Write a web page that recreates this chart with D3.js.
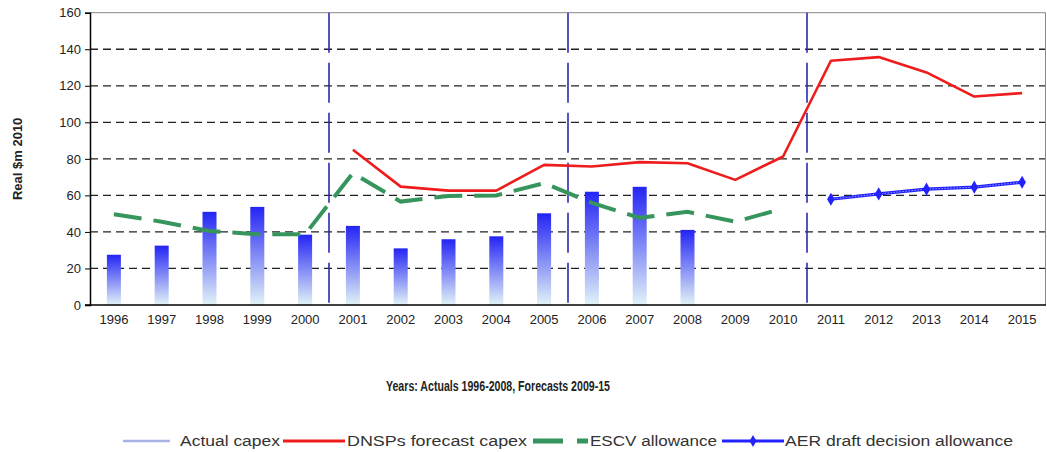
<!DOCTYPE html>
<html>
<head>
<meta charset="utf-8">
<script src="https://cdn.jsdelivr.net/npm/d3@7"></script>
<style>
  body { margin: 0; background: #fff; }
  svg { display: block; font-family: "Liberation Sans", Arial, sans-serif; }
  .tick text { fill: #222; }
</style>
</head>
<body>
<div id="chart"></div>
<script>
// data
const years = ['1996', '1997', '1998', '1999', '2000', '2001', '2002', '2003', '2004', '2005',
  '2006', '2007', '2008', '2009', '2010', '2011', '2012', '2013', '2014', '2015']
const actualYears = ['1996', '1997', '1998', '1999', '2000', '2001', '2002', '2003', '2004', '2005', '2006', '2007', '2008']
const actualCapex = [27.5, 32.5, 51, 53.7, 38.5, 43.3, 31, 36, 37.6, 50.2, 62, 64.7, 41.1]
const dnspYears = ['2001', '2002', '2003', '2004', '2005', '2006', '2007', '2008', '2009', '2010', '2011', '2012', '2013', '2014', '2015']
const dnspForecast = [85, 64.8, 62.6, 62.6, 76.7, 75.8, 78.2, 77.6, 68.5, 81.3, 133.7, 135.7, 127.3, 114.1, 116]
const escvYears = ['1996', '1997', '1998', '1999', '2000', '2001', '2002', '2003', '2004', '2005', '2006', '2007', '2008', '2009', '2010']
const escvAllowance = [49.7, 45.6, 40.5, 38.7, 38.7, 72.2, 56.6, 59.7, 60, 66.7, 55.9, 47.7, 51, 45.6, 52.8]
const aerYears = ['2011', '2012', '2013', '2014', '2015']
const aerAllowance = [57.9, 60.8, 63.4, 64.5, 67.2]
const periodBreaks = ['2001', '2006', '2011']
const yTicks = [0, 20, 40, 60, 80, 100, 120, 140, 160]

const width = 1047, height = 452
const margin = { top: 12.7, right: 1, bottom: 147, left: 90 }

const svg = d3.select('#chart').append('svg')
  .attr('width', width).attr('height', height)

const x = d3.scaleBand().domain(years)
  .range([margin.left, width - margin.right]).padding(0)
const y = d3.scaleLinear().domain([0, 160])
  .range([height - margin.bottom, margin.top])
const cx = d => x(d) + x.bandwidth() / 2

const defs = svg.append('defs')
const grad = defs.append('linearGradient').attr('id', 'barGrad')
  .attr('x1', 0).attr('y1', 0).attr('x2', 0).attr('y2', 1)
grad.append('stop').attr('offset', '0%').attr('stop-color', '#2424f4')
grad.append('stop').attr('offset', '100%').attr('stop-color', '#e2f3f7')

// grid
svg.append('g').attr('class', 'grid')
  .selectAll('line').data(yTicks.filter(d => d > 0 && d < 160)).join('line')
  .attr('x1', margin.left).attr('x2', width - margin.right)
  .attr('y1', d => y(d)).attr('y2', d => y(d))
  .attr('stroke', '#222').attr('stroke-width', 1.3).attr('stroke-dasharray', '8,5')

// frame top/right
svg.append('path')
  .attr('d', `M${margin.left},${y(160)}H${width - margin.right - 0.5}V${y(0)}`)
  .attr('fill', 'none').attr('stroke', '#888').attr('stroke-width', 1)

// bars
svg.append('g').selectAll('rect').data(actualYears).join('rect')
  .attr('x', d => cx(d) - 7)
  .attr('width', 14)
  .attr('y', (d, i) => y(actualCapex[i]))
  .attr('height', (d, i) => y(0) - y(actualCapex[i]))
  .attr('fill', 'url(#barGrad)')

// period separators
svg.append('g').selectAll('line').data(periodBreaks).join('line')
  .attr('x1', d => x(d)).attr('x2', d => x(d))
  .attr('y1', y(160)).attr('y2', y(0) + 6)
  .attr('stroke', '#2a2ab4').attr('stroke-width', 1.6).attr('stroke-dasharray', '40,10')

// axes
svg.append('g').attr('transform', `translate(${margin.left},0)`)
  .call(d3.axisLeft(y).tickValues(yTicks).tickSize(5).tickPadding(4))
  .call(g => g.select('.domain').attr('stroke', '#000').attr('stroke-width', 1.5))
  .call(g => g.selectAll('.tick line').attr('stroke', '#000'))
  .call(g => g.selectAll('.tick text').attr('font-size', 13).attr('font-family', null))

svg.append('g').attr('transform', `translate(0,${y(0)})`)
  .call(d3.axisBottom(x).tickSize(0).tickPadding(10))
  .call(g => g.select('.domain').attr('d', `M${margin.left - 5},0H${width - margin.right}`)
    .attr('stroke', '#000').attr('stroke-width', 1.5))
  .call(g => g.selectAll('.tick text').attr('font-size', 13).attr('font-family', null))

// lines
const line = (ys, vs) => d3.line().x((d, i) => cx(ys[i])).y(d => y(d))(vs)

svg.append('path').attr('d', line(escvYears, escvAllowance))
  .attr('fill', 'none').attr('stroke', '#36955c').attr('stroke-width', 4)
  .attr('stroke-dasharray', '28,12')

svg.append('path').attr('d', line(dnspYears, dnspForecast))
  .attr('fill', 'none').attr('stroke', '#ee1c1c').attr('stroke-width', 2.6)
  .attr('stroke-linejoin', 'round')

svg.append('path').attr('d', line(aerYears, aerAllowance))
  .attr('fill', 'none').attr('stroke', '#2222ff').attr('stroke-width', 3.2)
svg.append('path').attr('d', line(aerYears, aerAllowance))
  .attr('fill', 'none').attr('stroke', '#9a9aff').attr('stroke-width', 1).attr('stroke-dasharray', '1.5,1.5')
svg.append('g').selectAll('path').data(aerAllowance).join('path')
  .attr('transform', (d, i) => `translate(${cx(aerYears[i])},${y(d)})`)
  .attr('d', d3.symbol(d3.symbolDiamond, 50))
  .attr('fill', '#2222ff')

// axis titles
svg.append('text')
  .attr('transform', `translate(22,${(y(0) + y(160)) / 2}) rotate(-90)`)
  .attr('text-anchor', 'middle').attr('font-weight', 'bold').attr('font-size', 13)
  .attr('fill', '#222').text('Real $m 2010')

svg.append('text')
  .attr('x', 386).attr('y', 391)
  .attr('font-weight', 'bold').attr('font-size', 14)
  .attr('textLength', 224).attr('lengthAdjust', 'spacingAndGlyphs')
  .attr('fill', '#222').text('Years: Actuals 1996-2008, Forecasts 2009-15')

// legend
const legend = svg.append('g').attr('transform', 'translate(0,441)')
  .attr('font-size', 14).attr('fill', '#333')
const legendText = (x0, len, label) => legend.append('text')
  .attr('x', x0).attr('y', 5)
  .attr('textLength', len).attr('lengthAdjust', 'spacingAndGlyphs').text(label)

legend.append('line').attr('x1', 123).attr('x2', 170)
  .attr('stroke', '#aab3e6').attr('stroke-width', 2.5)
legendText(180, 100, 'Actual capex')

legend.append('line').attr('x1', 283).attr('x2', 345)
  .attr('stroke', '#ee1c1c').attr('stroke-width', 3)
legendText(347, 180, 'DNSPs forecast capex')

legend.append('line').attr('x1', 533).attr('x2', 588)
  .attr('stroke', '#36955c').attr('stroke-width', 5).attr('stroke-dasharray', '30,14')
legendText(590, 127, 'ESCV allowance')

legend.append('line').attr('x1', 722).attr('x2', 784)
  .attr('stroke', '#2222ff').attr('stroke-width', 3)
legend.append('path').attr('transform', 'translate(753,0)')
  .attr('d', d3.symbol(d3.symbolDiamond, 40)).attr('fill', '#2222ff')
legendText(785, 228, 'AER draft decision allowance')
</script>
</body>
</html>
